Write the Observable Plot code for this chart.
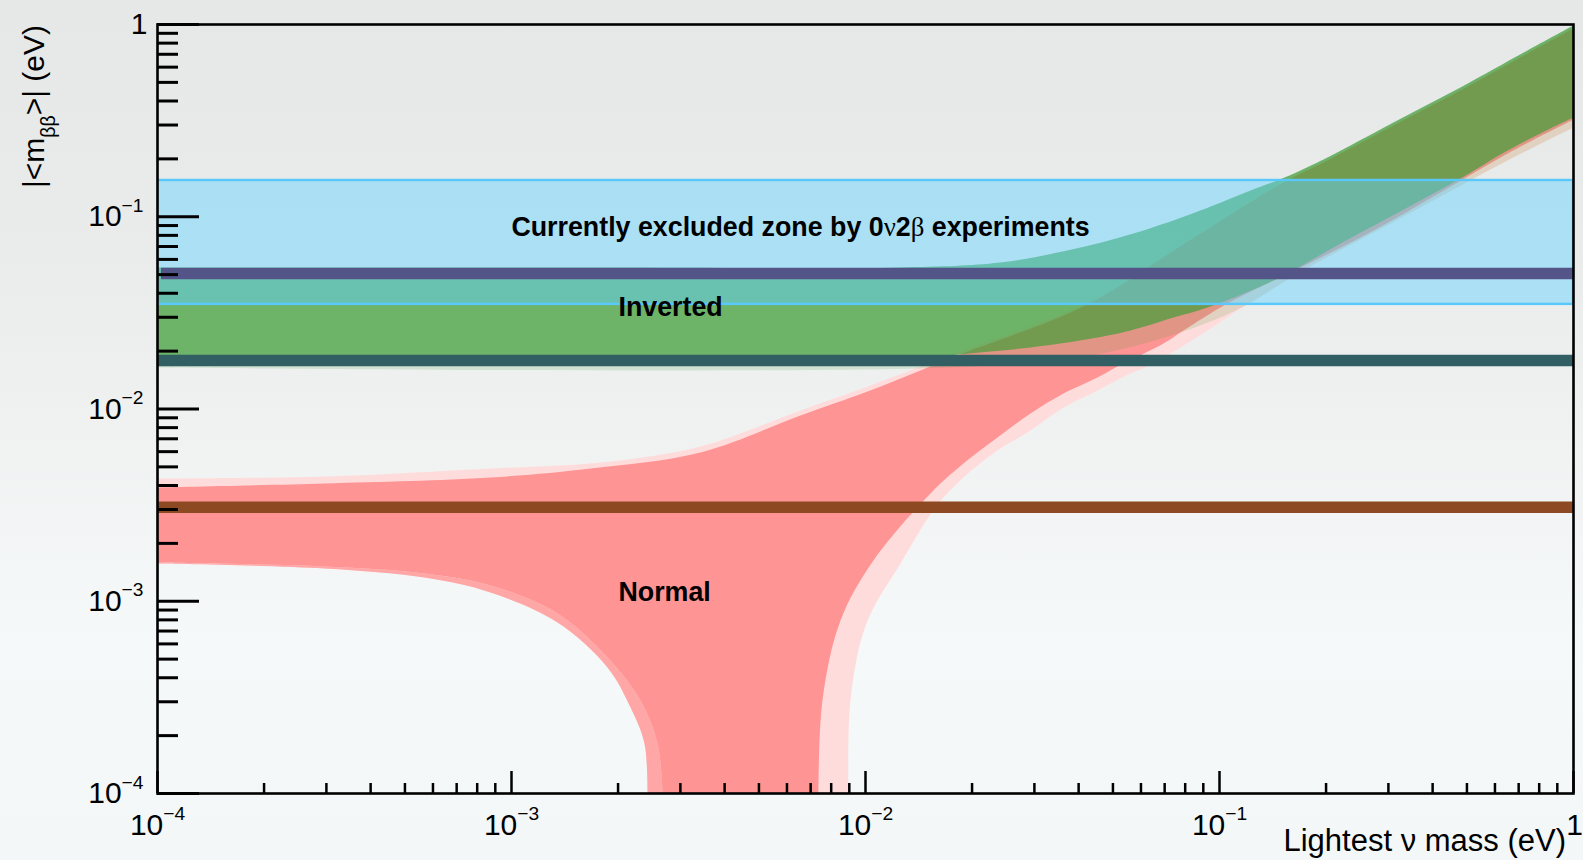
<!DOCTYPE html>
<html>
<head>
<meta charset="utf-8">
<script src="https://cdn.jsdelivr.net/npm/d3@7"></script>
<script src="https://cdn.jsdelivr.net/npm/@observablehq/plot@0.6"></script>
<style>
  html, body { margin: 0; padding: 0; width: 1583px; height: 860px; overflow: hidden; }
  body {
    background: linear-gradient(180deg, #e6e8e8 0%, #eaecec 30%, #f0f2f2 50%, #f6f9f9 75%, #f3f7f7 100%);
    font-family: "Liberation Sans", Arial, sans-serif;
  }
  #chart svg { display: block; }
</style>
</head>
<body>
<div id="chart"></div>
<script>
// ---------- Data: [lightest neutrino mass (eV), |<m_bb>| (eV)] ----------
// Normal ordering, outer (3 sigma) band
const normalUpper3 = [[1e-4,4.349e-3],[2.963e-4,4.455e-3],[8.725e-4,4.903e-3],[1.784e-3,5.267e-3],[3.419e-3,6.381e-3],[6.553e-3,9.822e-3],[1.013e-2,1.309e-2],[1.430e-2,1.664e-2],[1.819e-2,1.967e-2],[4.236e-2,3.581e-2],[7.913e-2,7.258e-2],[0.1516,0.1526],[0.2019,0.1985],[0.3101,0.3019],[0.4795,0.4590],[0.7414,0.7149],[1,0.9647]];
const normalLower3Left = [[1e-4,1.572e-3],[2.963e-4,1.481e-3],[5.679e-4,1.328e-3],[8.725e-4,1.110e-3],[1.349e-3,7.751e-4],[1.867e-3,4.522e-4],[2.169e-3,2.802e-4],[2.375e-3,1.820e-4],[2.422e-3,1e-4]];
const normalLower3Right = [[8.954e-3,1e-4],[9.070e-3,3.046e-4],[1.006e-2,7.660e-4],[1.256e-2,1.572e-3],[1.576e-2,3.073e-3],[1.891e-2,4.401e-3],[2.360e-2,6.083e-3],[2.925e-2,7.728e-3],[3.625e-2,1.018e-2],[4.521e-2,1.248e-2],[5.607e-2,1.530e-2],[6.261e-2,1.664e-2],[7.760e-2,2.089e-2],[9.250e-2,2.561e-2],[0.1184,3.455e-2],[0.1694,5.129e-2],[0.2723,8.279e-2],[0.4210,0.1274],[0.6513,0.1962],[1,0.2912]];
// Normal ordering, inner (1 sigma) band
const normalUpper1 = [[1e-4,3.906e-3],[2.963e-4,4.097e-3],[8.725e-4,4.401e-3],[1.672e-3,4.903e-3],[3.419e-3,5.938e-3],[6.553e-3,9.252e-3],[1.013e-2,1.233e-2],[1.430e-2,1.586e-2],[1.819e-2,1.898e-2],[4.236e-2,3.497e-2],[7.913e-2,7.171e-2],[0.1516,0.1507],[0.2019,0.1962],[0.3101,0.2983],[0.4795,0.4535],[0.7414,0.7065],[1,0.9532]];
const normalLower1Left = [[1e-4,1.591e-3],[2.963e-4,1.516e-3],[5.679e-4,1.394e-3],[8.725e-4,1.207e-3],[1.349e-3,8.636e-4],[1.867e-3,5.098e-4],[2.314e-3,3.046e-4],[2.585e-3,1.820e-4],[2.671e-3,1e-4]];
const normalLower1Right = [[7.364e-3,1e-4],[7.558e-3,3.046e-4],[8.50e-3,7.941e-4],[1.053e-2,1.629e-3],[1.526e-2,3.635e-3],[1.891e-2,5.204e-3],[2.360e-2,7.107e-3],[2.925e-2,9.476e-3],[3.625e-2,1.204e-2],[4.521e-2,1.458e-2],[5.150e-2,1.664e-2],[6.947e-2,2.191e-2],[7.913e-2,2.561e-2],[0.1053,3.538e-2],[0.1694,5.445e-2],[0.2723,8.483e-2],[0.4210,0.1337],[0.6513,0.2133],[1,0.3205]];
// Inverted ordering
const invertedUpper = [[1e-4,5.445e-2],[1.784e-3,5.445e-2],[1.256e-2,5.445e-2],[2.406e-2,5.781e-2],[3.720e-2,6.675e-2],[5.717e-2,8.178e-2],[8.838e-2,0.1078],[0.1224,0.1370],[0.1458,0.1544],[0.1694,0.1740],[0.2019,0.2033],[0.3101,0.3092],[0.4795,0.4702],[0.7414,0.7323],[1,0.988]];
const invertedLower1 = [[1e-4,1.767e-2],[1.256e-2,1.767e-2],[1.819e-2,1.921e-2],[2.925e-2,2.089e-2],[4.521e-2,2.354e-2],[5.607e-2,2.561e-2],[7.418e-2,2.991e-2],[9.250e-2,3.373e-2],[0.1421,4.660e-2],[0.2197,7.258e-2],[0.3397,0.1117],[0.4795,0.1581],[0.6513,0.2212],[0.9190,0.3055],[1,0.3284]];
const invertedLower3 = [[1e-4,1.644e-2],[1.738e-2,1.644e-2],[4.320e-2,1.898e-2],[7.913e-2,2.530e-2],[0.1184,3.455e-2],[0.1694,5.191e-2],[0.2723,8.279e-2],[0.4210,0.1274],[0.6513,0.1962],[1,0.2912]];
// Currently excluded zone (eV)
const excludedZone = [{lo: 0.0350, hi: 0.1544}];
// Horizontal sensitivity levels (eV) and where each starts on the mass axis
const levelValues = [0.0507, 0.01788, 0.003081];
const levelStarts = [1.026e-4, 1e-4, 1e-4];
// Axis range and ticks
const massDomain = [1e-4, 1];
const mbbDomain = [1e-4, 1];
const decades = [1e-4, 1e-3, 1e-2, 1e-1, 1];
// Annotations (data coordinates)
const labelTexts = ["Currently excluded zone by 0\u03bd2\u03b2 experiments", "Inverted", "Normal"];
const labelX = [6.553e-3, 2.005e-3, 2.005e-3];
const labelY = [0.088, 0.03385, 1.114e-3];

// ---------- Build tables ----------
const minorTicks = [];
for (const d of decades.slice(0, -1)) for (let k = 2; k <= 9; k++) minorTicks.push(d * k);
const rev = a => a.slice().reverse();
// repeat the end points of each boundary so the spline turns sharply at the corners
const seg = p => [p[0], ...p, p[p.length - 1]];
const polyNormal3 = [...seg(normalUpper3), ...seg(rev(normalLower3Right)), ...seg(rev(normalLower3Left))];
const polyNormal1 = [...seg(normalUpper1), ...seg(rev(normalLower1Right)), ...seg(rev(normalLower1Left))];
const polyLeftStrip = [...seg(normalLower1Left), ...seg(rev(normalLower3Left))];
const polyInverted3 = [...seg(invertedUpper), ...seg(rev(invertedLower3))];
const polyInverted1 = [...seg(invertedUpper), ...seg(rev(invertedLower1))];
const levelColors = ["#535487", "#325f64", "#8d4a22"];
const levels = levelValues.map((v, i) => ({y: v, x1: levelStarts[i], color: levelColors[i]}));
const annotations = labelTexts.map((t, i) => ({text: t, x: labelX[i], y: labelY[i]}));

const fmtPow = d => {
  const e = Math.round(Math.log10(d));
  return e === 0 ? "1" : "10^" + (e < 0 ? "\u2212" + (-e) : String(e));
};
const blank = () => "";
const px = d => d[0], py = d => d[1];
const shape = (data, fill, opacity = 1) =>
  Plot.line(data, {x: px, y: py, fill, fillOpacity: opacity, stroke: "none", curve: "catmull-rom", clip: true});

const chart = Plot.plot({
  width: 1583,
  height: 860,
  marginLeft: 157,
  marginRight: 10,
  marginTop: 24,
  marginBottom: 67,
  style: {background: "transparent", fontFamily: "'Liberation Sans', Arial, sans-serif", color: "black"},
  x: {type: "log", domain: massDomain},
  y: {type: "log", domain: mbbDomain},
  marks: [
    shape(polyNormal3, "#ffdcdc"),
    shape(polyLeftStrip, "#ffa6a6"),
    shape(polyNormal1, "#ff9494"),
    shape(polyInverted3, "rgb(62,158,55)", 0.16),
    shape(polyInverted1, "rgb(62,158,55)", 0.68),
    Plot.rect(excludedZone, {x1: () => massDomain[0], x2: () => massDomain[1], y1: "lo", y2: "hi",
      fill: "rgb(100,210,255)", fillOpacity: 0.47, stroke: "#5ac8fa", strokeWidth: 2.4, clip: true}),
    Plot.ruleY(levels, {y: "y", x1: "x1", x2: () => massDomain[1], stroke: "color", strokeWidth: 11.5}),
    Plot.text(annotations.slice(0, 1), {x: "x", y: "y", text: "text", textAnchor: "middle", fontSize: 26.8, fontWeight: "bold", fill: "black"}),
    Plot.text(annotations.slice(1), {x: "x", y: "y", text: "text", textAnchor: "start", fontSize: 26.8, fontWeight: "bold", fill: "black"}),
    Plot.frame({stroke: "black", strokeWidth: 2.6}),
    Plot.axisY(minorTicks, {anchor: "left", tickSize: -21, strokeWidth: 3, tickFormat: blank, label: null}),
    Plot.axisY(decades, {anchor: "left", tickSize: -42, strokeWidth: 3, tickFormat: blank, label: null}),
    Plot.axisY(decades, {anchor: "left", tickSize: 0, tickPadding: 14, tickFormat: fmtPow, fontSize: 30, label: null}),
    Plot.axisX(minorTicks, {anchor: "bottom", tickSize: -10, strokeWidth: 2.5, tickFormat: blank, label: null}),
    Plot.axisX(decades, {anchor: "bottom", tickSize: -22, strokeWidth: 2.5, tickFormat: blank, label: null}),
    Plot.axisX(decades, {anchor: "bottom", tickSize: 0, tickPadding: 20, tickFormat: fmtPow, fontSize: 30, label: null})
  ]
});

// ---------- Typography post-processing ----------
const svg = d3.select(chart);
svg.selectAll("text").each(function () {
  const t = this.textContent;
  const m = t.match(/^10\^(.+)$/);
  const group = this.parentNode && this.parentNode.getAttribute ? (this.parentNode.getAttribute("aria-label") || "") : "";
  if (m) {
    const s = d3.select(this);
    s.text(null);
    s.append("tspan").text("10");
    s.append("tspan").attr("font-size", "0.64em").attr("dy", "-0.75em").text(m[1]);
  } else if (t === "1" && group.startsWith("x-axis")) {
    d3.select(this).attr("dx", 1);
  } else if (t === "1" && group.startsWith("y-axis")) {
    d3.select(this).attr("dx", 4);
  } else if (t.includes("0\u03bd2\u03b2")) {
    const s = d3.select(this);
    const parts = t.split(/(\u03bd|\u03b2)/);
    s.text(null);
    for (const p of parts) {
      if (!p) continue;
      const ts = s.append("tspan").text(p);
      if (p === "\u03bd" || p === "\u03b2") ts.attr("font-family", "'Liberation Serif', 'DejaVu Serif', serif").attr("font-weight", "normal");
    }
  }
});

// Axis titles
const yTitle = svg.append("text")
  .attr("transform", "translate(44,25) rotate(-90)")
  .attr("text-anchor", "end")
  .attr("font-size", 30)
  .attr("fill", "black");
yTitle.append("tspan").text("|<m");
yTitle.append("tspan").attr("font-size", "0.65em").attr("dy", "0.55em").text("\u03b2\u03b2");
yTitle.append("tspan").attr("dy", "-0.36em").text(">| (eV)");

svg.append("text")
  .attr("x", 1566)
  .attr("y", 851)
  .attr("text-anchor", "end")
  .attr("font-size", 31)
  .attr("fill", "black")
  .text("Lightest \u03bd mass (eV)");

document.getElementById("chart").appendChild(chart);
</script>
</body>
</html>
